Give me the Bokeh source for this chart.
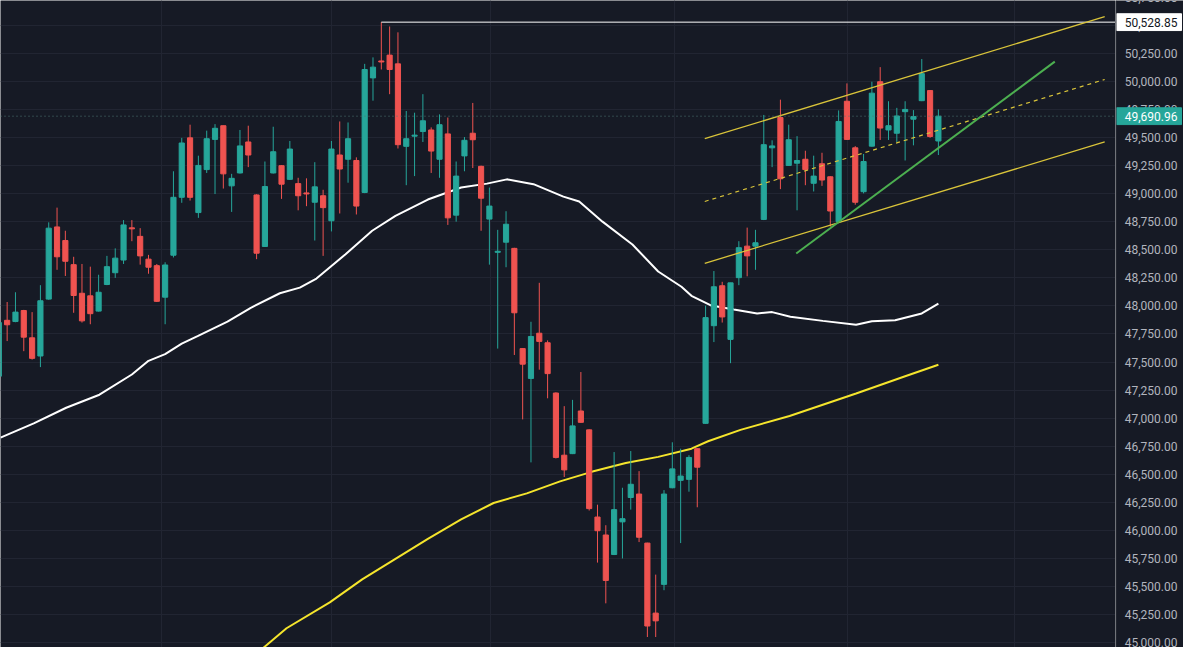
from bokeh.plotting import figure
from bokeh.layouts import row
from bokeh.models import FixedTicker, ColumnDataSource, Span, Range1d
from bokeh.core.properties import value
from bokeh.embed import file_html
from bokeh.resources import INLINE

# ---- candle data (index -1 .. 112) ----
idx = list(range(-1, 113))
opens = [47374, 47872, 47861, 47959, 47716, 47554, 48061, 48704, 48583, 48368,
         48113, 48090, 47954, 48191, 48296, 48409, 48696, 48620, 48417, 48359,
         48078, 48452, 48968, 49498, 48832, 49215, 49484, 49606, 49070, 49185,
         49461, 48989, 48530, 49185, 49250, 49128, 49090, 49007, 48924, 48982,
         48759, 49345, 49307, 49296, 49011, 50032, 50183, 50235, 50157, 49422,
         49513, 49554, 49568, 49307, 49533, 48809, 49337, 49539, 49244, 48774,
         48478, 48568, 48513, 47620, 47354, 47757, 47672, 47224, 46670, 46684,
         47064, 46896, 46119, 45959, 45785, 46076, 46293, 46324, 45887, 45263,
         45519, 46380, 46446, 46455, 46728, 46954, 47824, 48180, 47702, 48252,
         48533, 48533, 48771, 49409, 49679, 49252, 49272, 49307, 49093, 49267,
         49151, 48751, 49824, 49409, 49018, 49424, 49998, 49568, 49539, 49731,
         49664, 49829, 49919, 49470]
highs = [47896, 48035, 48122, 47965, 47945, 48185, 48745, 48876, 48670, 48438,
         48374, 48350, 48278, 48446, 48513, 48765, 48765, 48693, 48455, 48374,
         48389, 49200, 49498, 49615, 49339, 49562, 49620, 49606, 49177, 49568,
         49606, 48995, 49287, 49597, 49255, 49470, 49142, 49137, 49281, 49035,
         49470, 49644, 49635, 49324, 50157, 50215, 50528.85, 50490, 50438, 49737,
         49722, 49887, 49591, 49707, 49679, 49287, 49505, 49809, 49250, 49055,
         48678, 48844, 48518, 47625, 47859, 48206, 47693, 47230, 47107, 47163,
         47411, 46900, 46229, 46046, 46698, 46380, 46707, 46528, 45890, 45606,
         46359, 46785, 46728, 46670, 46732, 48003, 48311, 48215, 48206, 48577,
         48698, 48678, 49702, 49476, 49838, 49615, 49513, 49383, 49339, 49365,
         49155, 49742, 49983, 49424, 49354, 49998, 50128, 49824, 49765, 49824,
         49745, 50200, 49922, 49751]
lows = [47357, 47687, 47855, 47597, 47522, 47455, 48055, 48322, 48267, 47939,
        47852, 47837, 47950, 48185, 48250, 48374, 48577, 48368, 48287, 48035,
        47837, 48432, 48919, 48939, 48785, 49185, 48997, 49046, 48838, 49180,
        49237, 48417, 48525, 49180, 48954, 49123, 48852, 48889, 48583, 48446,
        48664, 48824, 49098, 48815, 49005, 49829, 50107, 49887, 49403, 49076,
        49157, 49461, 49185, 49142, 48722, 48751, 49200, 49229, 48670, 48368,
        47620, 48345, 47563, 46989, 46606, 47432, 47177, 46641, 46476, 46680,
        46960, 46177, 45713, 45350, 45780, 45750, 46185, 45896, 45050, 45050,
        45467, 46375, 45887, 46345, 46206, 46950, 47678, 47852, 47490, 48185,
        48264, 48322, 48765, 49237, 49041, 49248, 48852, 49076, 49020, 49070,
        48707, 48745, 49480, 48902, 49003, 49420, 49479, 49479, 49461, 49296,
        49431, 49825, 49498, 49345]
closes = [47852, 47832, 47945, 47722, 47533, 48046, 48693, 48438, 48398, 48093,
          47867, 47931, 48122, 48350, 48426, 48722, 48687, 48446, 48345, 48041,
          48365, 48968, 49452, 48968, 49252, 49490, 49583, 49177, 49137, 49426,
          49345, 48470, 49064, 49374, 49085, 49398, 48982, 48998, 49061, 48876,
          49398, 49220, 49490, 48890, 50107, 50128, 50174, 50107, 49437, 49490,
          49522, 49650, 49380, 49615, 48785, 49157, 49476, 49481, 48960, 48890,
          48487, 48728, 47939, 47481, 47728, 47684, 47397, 46650, 46539, 46931,
          46963, 46194, 45997, 45554, 46185, 46104, 46411, 45939, 45148, 45194,
          46324, 46548, 46484, 46650, 46563, 47896, 48171, 47902, 48206, 48519,
          48446, 48563, 49437, 49426, 49133, 49481, 49296, 49215, 49157, 49122,
          48846, 49644, 49484, 48924, 49287, 49896, 49585, 49606, 49693, 49751,
          49687, 50070, 49510, 49690.96]

# ---- moving averages (sampled along the drawn curves) ----
ma_white_x = [-0.8, 3.2, 7.1, 11.1, 15.0, 17.0, 19.0, 21.0, 22.9, 26.5, 29.3, 32.8,
              35.2, 37.2, 40.7, 43.9, 46.7, 50.6, 54.6, 57.7, 60.1, 63.3, 66.9, 68.8,
              71.6, 75.2, 78.3, 81.1, 82.3, 84.7, 87.4, 90.2, 92.0, 94.2, 98.1, 102.1,
              104.0, 106.8, 110.0, 112.0]
ma_white_y = [46826, 46954, 47093, 47209, 47389, 47511, 47571, 47664, 47731, 47861,
              47983, 48113, 48163, 48244, 48461, 48670, 48803, 48948, 49055, 49090,
              49128, 49085, 48974, 48931, 48751, 48548, 48307, 48171, 48090, 48003,
              47968, 47933, 47945, 47904, 47867, 47832, 47864, 47872, 47933, 48020]
ma_yellow_x = [29.0, 30.9, 33.6, 38.8, 42.7, 46.7, 50.6, 54.6, 58.5, 62.5, 66.5,
               70.4, 74.4, 78.3, 82.3, 84.3, 88.2, 94.1, 102.1, 108.0, 112.0]
ma_yellow_y = [44840, 44959, 45128, 45359, 45563, 45746, 45924, 46098, 46244, 46330,
               46437, 46524, 46600, 46655, 46728, 46794, 46896, 47019, 47220, 47374,
               47476]

# ---- drawings ----
channel_x = [83.9, 132.0]
channel_upper = [49490, 50577]
channel_mid = [48931, 50018]
channel_lower = [48380, 49461]
green_x = [94.9, 126.0]
green_y = [48467, 50177]
resistance_start = 45
resistance_level = 50528.85
last_price = 49690.96

month_ticks = [18.55, 38.96, 58.19, 80.26, 101.03, 121.2]
price_ticks = list(range(45000, 50751, 250))
price_tick_labels = [f"{v:,.2f}" for v in price_ticks]

X_START, X_END = -0.8, 133.3
Y_START, Y_END = 44956.5, 50721.7

BG = "#161a25"
UP = "#26a69a"
DOWN = "#ef5350"
GRID = "#212532"
AXIS_W = 68
FONT = "Roboto"

colors = [UP if c >= o else DOWN for o, c in zip(opens, closes)]
src = ColumnDataSource(dict(
    x=idx, o=opens, h=highs, l=lows, c=closes,
    top=[max(o, c) for o, c in zip(opens, closes)],
    bot=[min(o, c) for o, c in zip(opens, closes)],
    color=colors))

yr = Range1d(Y_START, Y_END)
p = figure(width=1183 - AXIS_W, height=647, x_range=(X_START, X_END), y_range=yr,
           x_axis_location=None, y_axis_location=None, toolbar_location=None,
           output_backend="svg", min_border=0,
           background_fill_color=BG, border_fill_color=BG, outline_line_color=None)

p.xgrid.ticker = FixedTicker(ticks=month_ticks)
p.ygrid.ticker = FixedTicker(ticks=price_ticks)
p.xgrid.grid_line_color = GRID
p.ygrid.grid_line_color = GRID

# last price dotted line
p.add_layout(Span(location=last_price, dimension="width", line_color="#4d7873",
                  line_dash="1 3", line_width=1))

# moving averages
p.line(ma_yellow_x, ma_yellow_y, line_color="#f5e52c", line_width=2)
p.line(ma_white_x, ma_white_y, line_color="#ffffff", line_width=2)

# candles
p.segment(x0="x", y0="l", x1="x", y1="h", line_color="color", line_width=1, source=src)
p.vbar(x="x", width=0.62, top="top", bottom="bot", fill_color="color",
       line_color="color", line_width=1, source=src)

# drawings
p.segment(x0=[resistance_start], y0=[resistance_level], x1=[X_END], y1=[resistance_level],
          line_color="#ffffff", line_width=1)
p.line(channel_x, channel_upper, line_color="#d9c43a", line_width=1.3)
p.line(channel_x, channel_lower, line_color="#d9c43a", line_width=1.3)
p.line(channel_x, channel_mid, line_color="#d9c43a", line_width=1.2, line_dash="4 4")
p.line(green_x, green_y, line_color="#4caf50", line_width=2)

# ---- price scale panel (shares the y scale) ----
q = figure(width=AXIS_W, height=647, x_range=(0, AXIS_W), y_range=yr,
           x_axis_location=None, y_axis_location=None, toolbar_location=None,
           output_backend="svg", min_border=0,
           background_fill_color=BG, border_fill_color=BG, outline_line_color=None)
q.xgrid.visible = False
q.ygrid.visible = False
q.add_layout(Span(location=0.5, dimension="height", line_color="#2a2e39", line_width=1))

q.text(x=[AXIS_W - 6] * len(price_ticks), y=price_ticks, text=price_tick_labels,
       text_align="right", text_baseline="middle", text_font=value(FONT),
       text_font_size="12px", text_color="#b2b5be")

box_half = 75  # half box height in price units
box_levels = [resistance_level, last_price]
box_fill = ["#ffffff", UP]
box_text_color = ["#131722", "#ffffff"]
q.quad(left=[1] * 2, right=[AXIS_W - 2] * 2,
       top=[v + box_half for v in box_levels], bottom=[v - box_half for v in box_levels],
       fill_color=box_fill, line_color=box_fill)
q.text(x=[AXIS_W - 6] * 2, y=box_levels, text=[f"{v:,.2f}" for v in box_levels],
       text_align="right", text_baseline="middle", text_font=value(FONT),
       text_font_size="12px", text_color=box_text_color)

layout = row(p, q)
open("out.html", "w").write(file_html(layout, INLINE))
